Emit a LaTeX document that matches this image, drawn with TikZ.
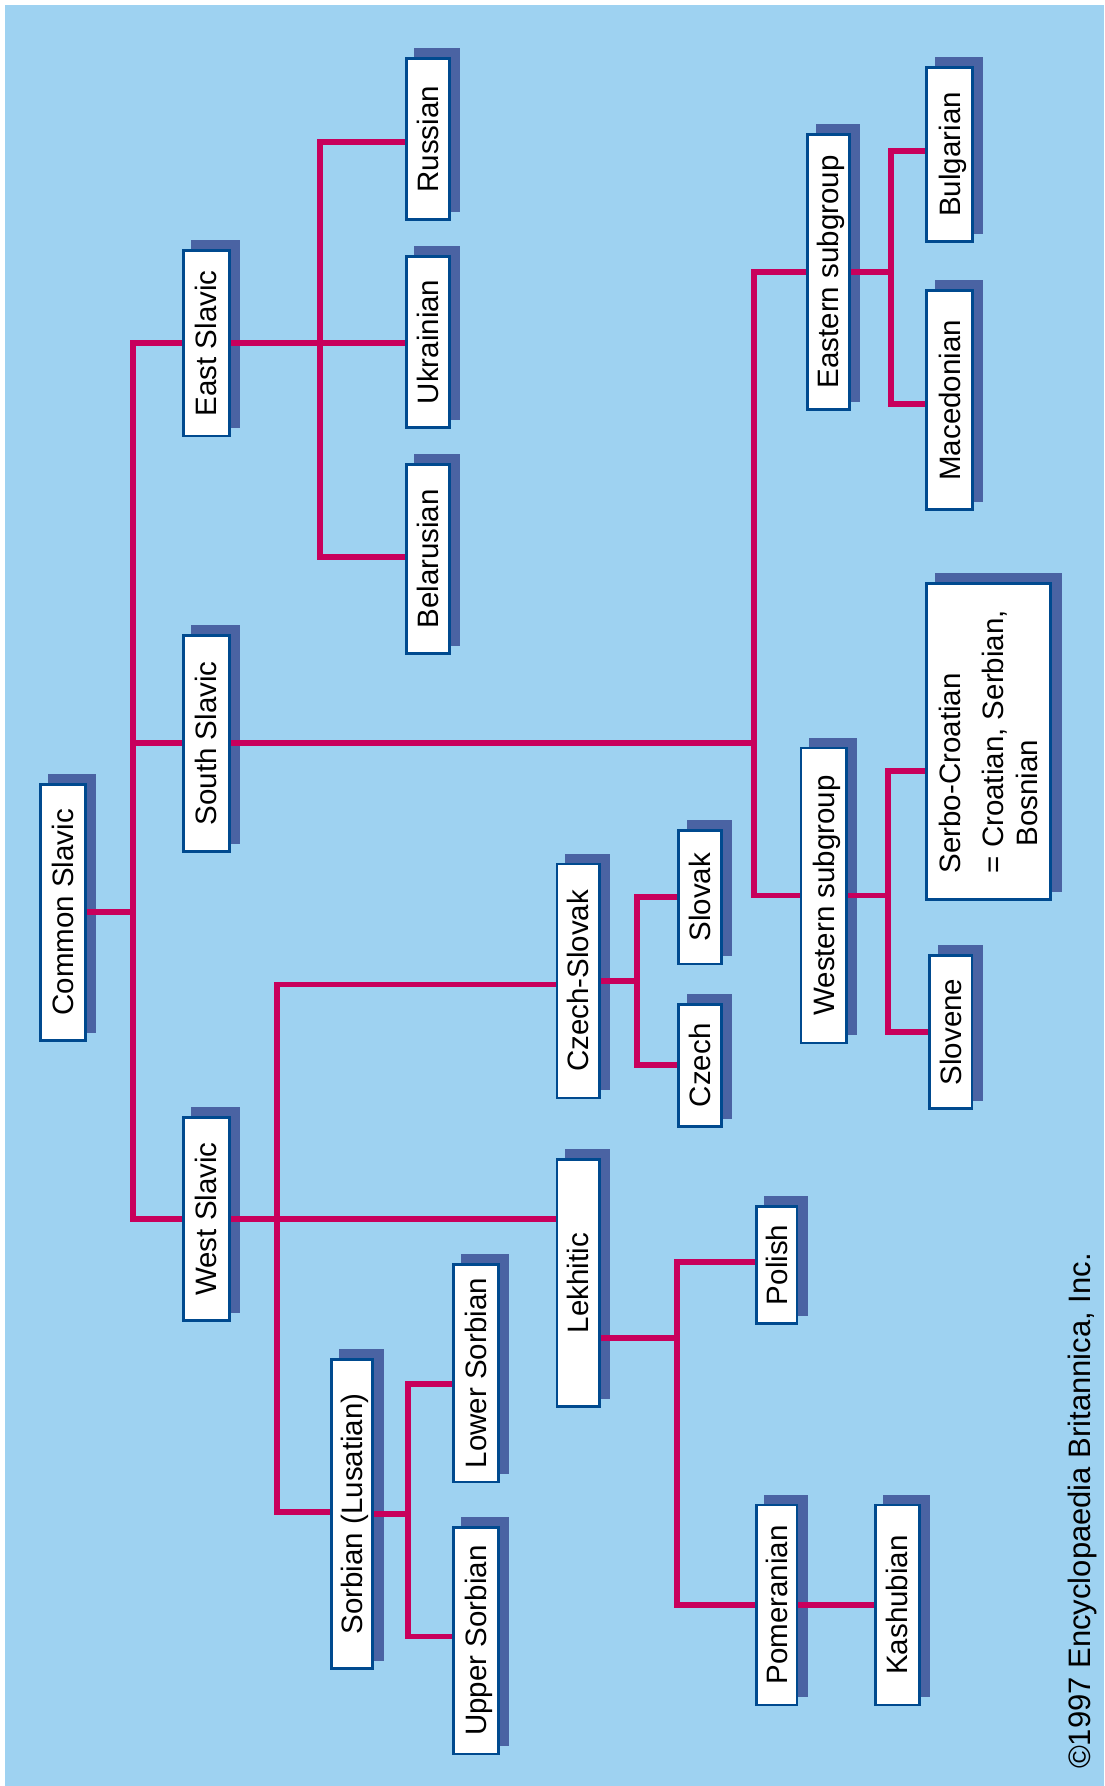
\documentclass[tikz,border=0pt]{standalone}
\usepackage{fontspec}
\setmainfont{Liberation Sans}
\pgfdeclarelayer{bg}\pgfdeclarelayer{shadow}\pgfdeclarelayer{lines}
\pgfsetlayers{bg,shadow,lines,main}
\definecolor{skyc}{RGB}{158,210,241}
\definecolor{linkc}{RGB}{200,0,92}
\definecolor{edgec}{RGB}{0,74,143}
\definecolor{shadowc}{RGB}{74,99,163}
\tikzset{
  boxbase/.style={draw=edgec, line width=2.8pt, fill=white, rotate=90, inner sep=0pt,
    font=\fontsize{29.5}{34.5}\selectfont},
  lang/.style={boxbase, text height=21.1pt, text depth=0pt},
  link/.style={draw=linkc, line width=5.8pt},
}
\begin{document}
\begin{tikzpicture}[x=1pt, y=-1pt]
\useasboundingbox (0,0) rectangle (1104,1786);
\begin{pgfonlayer}{bg}
  \fill[white] (0,0) rectangle (1104,1786);
  \fill[skyc] (5,4.6) rectangle (1104,1786);
\end{pgfonlayer}

% boxes
\node[lang, minimum width=255.9pt, minimum height=45.1pt] (cs) at (63.05,912.25) {Common Slavic};
\node[lang, minimum width=185.5pt, minimum height=45.8pt] (es) at (206.3,343.25) {East Slavic};
\node[lang, minimum width=215.6pt, minimum height=45.8pt] (ss) at (206.3,743.3) {South Slavic};
\node[lang, minimum width=202.8pt, minimum height=45.8pt] (ws) at (206.3,1219) {West Slavic};
\node[lang, minimum width=161pt, minimum height=43pt] (ru) at (427.7,139.3) {Russian};
\node[lang, minimum width=170.6pt, minimum height=43pt] (uk) at (427.7,341.9) {Ukrainian};
\node[lang, minimum width=188.9pt, minimum height=43pt] (be) at (427.7,558.85) {Belarusian};
\node[lang, minimum width=274.6pt, minimum height=41.5pt] (eg) at (828.35,271.9) {Eastern subgroup};
\node[lang, minimum width=173.6pt, minimum height=45.7pt] (bu) at (949.45,154.4) {Bulgarian};
\node[lang, minimum width=219.1pt, minimum height=45.7pt] (ma) at (949.45,400.25) {Macedonian};
\node[boxbase, align=left, minimum width=315.9pt, minimum height=124.2pt] (sc) at (988.7,741.75)
  {Serbo-Croatian\\[8pt]= Croatian, Serbian,\\\hspace*{27pt}Bosnian};
\node[lang, minimum width=294.9pt, minimum height=45.4pt] (wg) at (823.6,895.45) {Western subgroup};
\node[lang, minimum width=152.6pt, minimum height=42.3pt] (sl) at (950.85,1032) {Slovene};
\node[lang, minimum width=234.1pt, minimum height=42.3pt] (czs) at (578.05,980.95) {Czech-Slovak};
\node[lang, minimum width=133.8pt, minimum height=42.6pt] (sk) at (700,897.1) {Slovak};
\node[lang, minimum width=122pt, minimum height=42.6pt] (cz) at (700,1065.3) {Czech};
\node[lang, minimum width=246.9pt, minimum height=42.3pt] (lk) at (578.05,1283.15) {Lekhitic};
\node[lang, minimum width=309.4pt, minimum height=41.5pt] (sb) at (352.05,1513.9) {Sorbian (Lusatian)};
\node[lang, minimum width=217.6pt, minimum height=45pt] (ls) at (475.6,1373.1) {Lower Sorbian};
\node[lang, minimum width=226.8pt, minimum height=45pt] (us) at (475.6,1640.6) {Upper Sorbian};
\node[lang, minimum width=117.3pt, minimum height=40.8pt] (po) at (776.6,1264.85) {Polish};
\node[lang, minimum width=200pt, minimum height=40.8pt] (pm) at (776.6,1605) {Pomeranian};
\node[lang, minimum width=200pt, minimum height=44.3pt] (ka) at (897.35,1605) {Kashubian};

\node[rotate=90, inner sep=0pt, text height=22pt, text depth=0pt,
  font=\fontsize{31}{36}\selectfont] (copy) at (1079.5,1511)
  {©1997 Encyclopaedia Britannica, Inc.};

% shadows
\begin{pgfonlayer}{shadow}
\foreach \n in {cs,es,ss,ws,ru,uk,be,eg,bu,ma,sc,wg,sl,czs,sk,cz,lk,sb,ls,us,po,pm,ka}
  \fill[shadowc] ([shift={(9.3,-9)}]\n.south west) rectangle ([shift={(9.3,-9)}]\n.north east);
\end{pgfonlayer}

% connectors
\coordinate (j1) at (133.1,910.7);
\coordinate (j2) at (319.8,343.25);
\coordinate (j3) at (753.7,743.3);
\coordinate (j4) at (890.7,271.9);
\coordinate (j5) at (888.2,895.45);
\coordinate (j6) at (277.1,1219);
\coordinate (j7) at (636.8,981);
\coordinate (j8) at (407.7,1513.9);
\coordinate (j9) at (677,1337.95);
\begin{pgfonlayer}{lines}
\draw[link] (cs.south) -- (cs.south -| j1);
\draw[link] (j1) |- (es.north);
\draw[link] (j1) |- (ss.north);
\draw[link] (j1) |- (ws.north);
\draw[link] (es.south) -- (es.south -| uk.north);
\draw[link] (j2) |- ([yshift=-2.7pt]ru.north);
\draw[link] (j2) |- ([yshift=2pt]be.north);
\draw[link] (ss.south) -- (ss.south -| j3);
\draw[link] (j3) |- (eg.north);
\draw[link] (j3) |- (wg.north);
\draw[link] (eg.south) -- (eg.south -| j4);
\draw[link] (j4) |- ([yshift=3.3pt]bu.north);
\draw[link] (j4) |- ([yshift=-3.9pt]ma.north);
\draw[link] (wg.south) -- (wg.south -| j5);
\draw[link] (j5) |- ([yshift=-29.3pt]sc.north);
\draw[link] (j5) |- (sl.north);
\draw[link] (ws.south) -- (ws.south -| lk.north);
\draw[link] (j6) |- ([yshift=-3.6pt]czs.north);
\draw[link] (j6) |- ([yshift=2.3pt]sb.north);
\draw[link] (czs.south) -- (czs.south -| j7);
\draw[link] (j7) |- (sk.north);
\draw[link] (j7) |- (cz.north);
\draw[link] (sb.south) -- (sb.south -| j8);
\draw[link] (j8) |- ([yshift=-10.7pt]ls.north);
\draw[link] (j8) |- ([yshift=4.2pt]us.north);
\draw[link] ([yshift=-54.8pt]lk.south) -- (j9);
\draw[link] (j9) |- ([yshift=3pt]po.north);
\draw[link] (j9) |- (pm.north);
\draw[link] (pm.south) -- (pm.south -| ka.north);
\end{pgfonlayer}
\end{tikzpicture}
\end{document}
